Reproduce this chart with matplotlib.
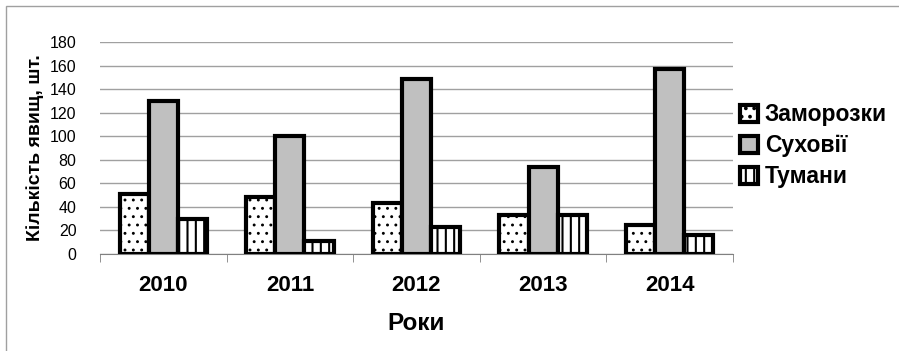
import matplotlib.pyplot as plt
import numpy as np
from matplotlib.patches import Rectangle

plt.rcParams['font.family'] = ['Liberation Sans', 'DejaVu Sans']
plt.rcParams['hatch.linewidth'] = 1.5

years = ['2010', '2011', '2012', '2013', '2014']
frosts = [51, 48, 43, 33, 25]
dry_winds = [130, 100, 149, 74, 157]
fogs = [30, 11, 23, 33, 16]

series = [
    ('Заморозки', frosts, 'white', '..', 0.9),
    ('Суховії', dry_winds, '#c0c0c0', None, 1.5),
    ('Тумани', fogs, 'white', '||', 1.5),
]

fig = plt.figure(figsize=(8.99, 3.51), dpi=100)
ax = fig.add_axes([100 / 899, 1 - 254 / 351, 633 / 899, 212 / 351])

x = np.arange(len(years))
w = 0.23
for i, (name, vals, color, hatch, hlw) in enumerate(series):
    bars = ax.bar(x + (i - 1) * w, vals, w, color=color, edgecolor='black',
                  linewidth=3, hatch=hatch, label=name, zorder=3)
    for p in bars:
        if hasattr(p, 'set_hatch_linewidth'):
            p.set_hatch_linewidth(hlw)

ax.set_xlim(-0.5, len(years) - 0.5)
ax.set_ylim(0, 180)
ax.set_yticks(range(0, 181, 20))
ax.yaxis.grid(True, color='#a0a0a0', linewidth=1)
ax.set_axisbelow(True)
for s in ['top', 'right', 'left']:
    ax.spines[s].set_visible(False)
ax.spines['bottom'].set_color('#808080')
ax.tick_params(axis='y', length=0, labelsize=11.5, pad=17)

ax.set_xticks(x)
ax.set_xticklabels(years, fontsize=16, fontweight='bold')
ax.tick_params(axis='x', length=0, pad=15)
ax.set_xticks(np.arange(-0.5, len(years)), minor=True)
ax.tick_params(axis='x', which='minor', length=6, color='#808080')

ax.set_xlabel('Роки', fontsize=17.5, fontweight='bold', labelpad=12)
ax.set_ylabel('Кількість явищ, шт.', fontsize=14, fontweight='bold', labelpad=4)

leg = ax.legend(loc='center left', bbox_to_anchor=(0.985, 0.51), frameon=False,
                prop={'size': 16.5, 'weight': 'bold'}, handlelength=0.8, handleheight=0.8,
                handletextpad=0.3, labelspacing=0.35, borderaxespad=0.3)

fig.patches.append(Rectangle((6 / 899, -0.01), 1.0, 1 - 6 / 351 + 0.01,
                             transform=fig.transFigure, fill=False,
                             edgecolor='#a0a0a0', linewidth=1))

fig.savefig('out.png', dpi=100)
